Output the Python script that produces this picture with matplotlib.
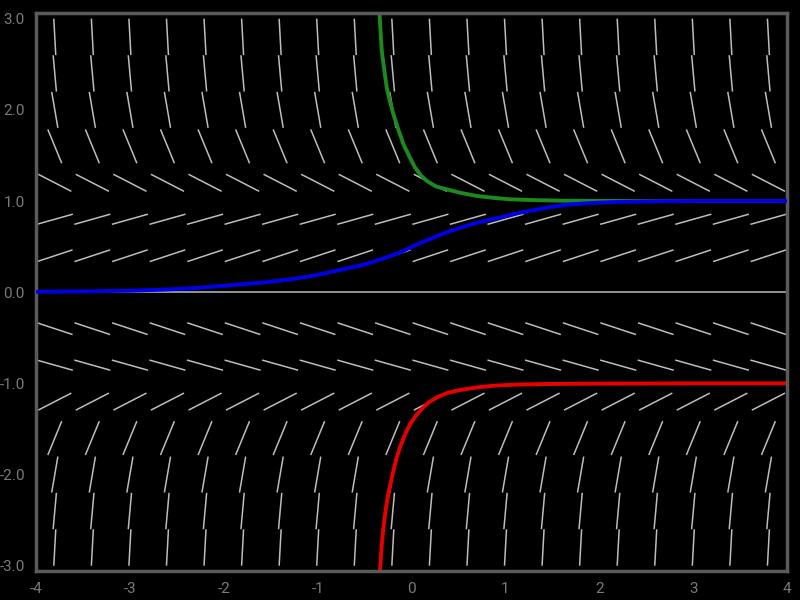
import matplotlib.pyplot as plt
import numpy as np
from matplotlib.collections import LineCollection

# slope field rows (y value of row, slope)
row_y = [2.8, 2.4, 2.0, 1.6, 1.2, 0.8, 0.4, 0.0, -0.4, -0.8, -1.2, -1.6, -2.0, -2.4, -2.8]
row_slope = [-19.0, -11.4, -6.0, -2.5, -0.53, 0.29, 0.34, 0.0,
             -0.34, -0.29, 0.53, 2.5, 6.0, 11.4, 19.0]

# solution curves
green_x = [-0.345, -0.33, -0.318, -0.29, -0.265, -0.23, -0.194, -0.14, -0.087, -0.02, 0.037,
           0.1, 0.162, 0.26, 0.376, 0.52, 0.697, 0.87, 1.05, 1.3, 1.59, 2.0, 2.5, 3.0, 4.0]
green_y = [3.1, 2.85, 2.65, 2.43, 2.245, 2.09, 1.953, 1.78, 1.623, 1.48, 1.366,
           1.28, 1.22, 1.16, 1.128, 1.09, 1.055, 1.035, 1.019, 1.01, 1.004, 1.001, 1.0, 1.0, 1.0]

red_x = [-0.345, -0.337, -0.32, -0.30, -0.275, -0.248, -0.194, -0.16, -0.123, -0.07, -0.016,
         0.05, 0.109, 0.18, 0.269, 0.38, 0.518, 0.69, 0.874, 1.1, 1.41, 2.12, 3.0, 4.0]
red_y = [-3.1, -3.06, -2.8, -2.58, -2.38, -2.21, -1.957, -1.82, -1.70, -1.56, -1.445,
         -1.35, -1.28, -1.21, -1.153, -1.105, -1.072, -1.045, -1.025, -1.014, -1.007, -1.002, -1.0, -1.0]

blue_x = [-4.0, -3.5, -3.0, -2.6, -2.295, -2.0, -1.58, -1.3, -1.05, -0.8, -0.515, -0.3, -0.123,
          0.05, 0.233, 0.41, 0.59, 0.77, 0.945, 1.12, 1.30, 1.48, 1.66, 1.9, 2.19, 2.6, 3.0, 4.0]
blue_y = [0.005, 0.009, 0.016, 0.03, 0.046, 0.07, 0.107, 0.14, 0.18, 0.235, 0.30, 0.37, 0.436,
          0.52, 0.60, 0.67, 0.73, 0.78, 0.82, 0.865, 0.90, 0.935, 0.96, 0.978, 0.99, 0.997, 1.0, 1.0]

fig = plt.figure(figsize=(8, 6), dpi=100, facecolor='black')
ax = fig.add_axes([0.045, 0.048, 0.939, 0.93])
ax.set_facecolor('black')

# short segments of fixed length centred on the grid
seg_len = 0.4
grid_x = np.arange(-3.8, 4.0, 0.4)
segs = []
for yy, m in zip(row_y, row_slope):
    dx = seg_len / 2 / np.sqrt(1 + m * m)
    dy = m * dx
    for xx in grid_x:
        segs.append([(xx - dx, yy - dy), (xx + dx, yy + dy)])
ax.add_collection(LineCollection(segs, colors='#bdbdbd', linewidths=1.1, zorder=1))

ax.plot(green_x, green_y, color='#1e8a1e', lw=2.8, zorder=2)
ax.plot(red_x, red_y, color='#e60000', lw=2.8, zorder=2)
ax.plot(blue_x, blue_y, color='#0000e6', lw=2.8, zorder=3)

ax.set_xlim(-4, 4)
ax.set_ylim(-3.06, 3.06)

ax.set_xticks(range(-4, 5))
ax.set_xticklabels(['-4', '-3', '-2', '-1', '0', '1', '2', '3', '4'])
ax.set_yticks(range(-3, 4))
ax.set_yticklabels(['-3.0', '-2.0', '-1.0', '0.0', '1.0', '2.0', '3.0'])
ax.tick_params(length=0, colors='#7a7a7a', labelsize=11, pad=8)
for lab in ax.get_xticklabels() + ax.get_yticklabels():
    lab.set_family('Roboto')

for sp in ax.spines.values():
    sp.set_color('#5a5a5a')
    sp.set_linewidth(2.5)

fig.savefig('out.png', dpi=100, facecolor='black')
